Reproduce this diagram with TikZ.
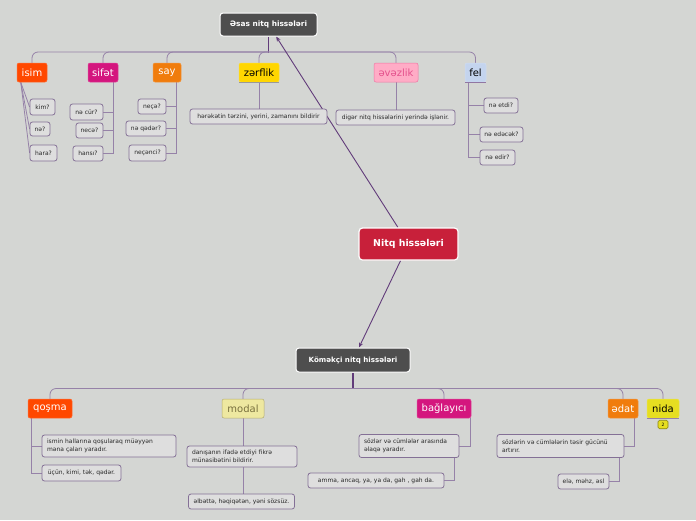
\documentclass[tikz,border=0pt]{standalone}
\usepackage{fontspec}
\setmainfont{DejaVu Sans}
\usetikzlibrary{arrows.meta,calc}
\definecolor{bgc}{RGB}{212,214,211}
\definecolor{leaff}{RGB}{222,222,222}
\definecolor{leafb}{RGB}{132,112,150}
\definecolor{connc}{RGB}{150,130,168}
\definecolor{connd}{RGB}{98,60,122}
\definecolor{darkn}{RGB}{78,78,78}
\definecolor{txt}{RGB}{40,40,40}
\definecolor{cisim}{RGB}{255,72,0}
\definecolor{csifet}{RGB}{212,22,126}
\definecolor{csay}{RGB}{240,124,12}
\definecolor{czerf}{RGB}{255,214,0}
\definecolor{cevez}{RGB}{255,172,198}
\definecolor{cevezt}{RGB}{228,80,140}
\definecolor{cfel}{RGB}{196,212,238}
\definecolor{cmodal}{RGB}{238,232,160}
\definecolor{cmodalt}{RGB}{120,112,62}
\definecolor{cnida}{RGB}{230,222,32}
\definecolor{cnitq}{RGB}{200,32,58}
\pgfdeclarelayer{back}
\pgfdeclarelayer{edges}
\pgfsetlayers{back,edges,main}
\begin{document}
\begin{tikzpicture}[x=1pt,y=-1pt,
  leaf/.style={draw=leafb, fill=leaff, line width=0.8pt, rounded corners=2.5pt,
    font=\fontsize{6}{7.6}\selectfont, text=txt, inner xsep=4pt, inner ysep=0pt,
    minimum height=15pt, align=left},
  leaftwo/.style={leaf, inner xsep=5pt, text width=#1},
  topn/.style={rounded corners=2pt, inner sep=0pt, minimum height=19pt,
    font=\fontsize{10}{12}\selectfont, text=white, draw=#1!80!white, line width=0.5pt, fill=#1},
  darkbox/.style={fill=darkn, draw=white, line width=1pt, rounded corners=3pt, text=white,
    inner sep=0pt, font=\bfseries\fontsize{7.4}{9}\selectfont},
  conn/.style={draw=connc, line width=0.8pt},
  connb/.style={draw=connd, line width=1.2pt},
  arr/.style={draw=connd, line width=0.9pt, -{Stealth[length=5pt,width=4pt]}}]
\begin{pgfonlayer}{back}
\fill[bgc] (0,0) rectangle (696,520);
\end{pgfonlayer}
\useasboundingbox (0,0) rectangle (696,520);

% ---------- top part ----------
\node[darkbox, minimum width=97pt, minimum height=23pt] (main1) at (268.5,24.5) {Əsas nitq hissələri};

\node[topn=cisim, minimum width=30pt] (isim) at (32,72.5) {isim};
\node[topn=csifet, minimum width=30pt] (sifet) at (103,72.5) {sifət};
\node[topn=csay, minimum width=28pt] (say) at (167,72.5) {say};
\node[topn=czerf, minimum width=40pt, text=black] (zerflik) at (259,72.5) {zərflik};
\node[topn=cevez, minimum width=44pt, text=cevezt, draw=cevezt!60!cevez] (evezlik) at (396,72.5) {əvəzlik};
\node[topn=cfel, minimum width=21pt, text=black] (fel) at (475.5,72.5) {fel};
\draw[draw=gray!80, line width=0.8pt] (zerflik.south west) -- (zerflik.south east);
\draw[draw=connd!70, line width=0.8pt] (fel.south west) -- (fel.south east);

\node[leaf, minimum width=25pt, minimum height=16pt] (kim) at (42.5,107) {kim?};
\node[leaf, minimum width=20pt, minimum height=14pt] (ne) at (40,129) {nə?};
\node[leaf, minimum width=27pt, minimum height=16pt] (hara) at (43.5,153) {hara?};

\node[leaf, minimum width=33pt, minimum height=16pt] (necur) at (86.5,112) {nə cür?};
\node[leaf, minimum width=27pt] (nece) at (89.5,130.5) {necə?};
\node[leaf, minimum width=30pt] (hansi) at (88,153.5) {hansı?};

\node[leaf, minimum width=28pt] (necea) at (152,106.5) {neçə?};
\node[leaf, minimum width=40pt] (neqeder) at (146,128.5) {nə qədər?};
\node[leaf, minimum width=37pt, minimum height=16pt] (necenci) at (147.5,153) {neçənci?};

\node[leaf, minimum width=137pt] (herek) at (258.5,116.5) {hərəkətin tərzini, yerini, zamanını bildirir};
\node[leaf, minimum width=119pt] (diger) at (395.5,117.5) {digər nitq hissələrini yerində işlənir.};

\node[leaf, minimum width=34pt] (netdi) at (501,105.5) {nə etdi?};
\node[leaf, minimum width=43pt] (nedecek) at (501.5,134.5) {nə edəcək?};
\node[leaf, minimum width=35pt] (nedir) at (497.5,157.5) {nə edir?};

% ---------- center ----------
\node[fill=cnitq, draw=white, line width=1.2pt, rounded corners=3.5pt, text=white,
  inner sep=0pt, minimum width=99pt, minimum height=32pt,
  font=\bfseries\fontsize{9.4}{11}\selectfont] (nitq) at (408.5,244) {Nitq hissələri};

% ---------- bottom part ----------
\node[darkbox, minimum width=114pt, minimum height=24pt, font=\bfseries\fontsize{7.1}{9}\selectfont] (komek) at (353,360) {Köməkçi nitq hissələri};

\node[topn=cisim, minimum width=44pt] (qosma) at (50,408.5) {qoşma};
\node[topn=cmodal, minimum width=42pt, text=cmodalt, draw=cmodalt!50!cmodal] (modal) at (243,408.5) {modal};
\node[topn=csifet, minimum width=54pt] (bagl) at (444,408.5) {bağlayıcı};
\node[topn=csay, minimum width=30pt] (edat) at (623,408.5) {ədat};
\node[topn=cnida, minimum width=32pt, text=black] (nida) at (663,408.5) {nida};
\draw[draw=connc, line width=0.8pt] (nida.south west) -- (nida.south east);
\node[fill=cnida, draw=cnida!60!black, line width=0.6pt, rounded corners=1.5pt, inner sep=0pt,
  minimum width=10pt, minimum height=8.5pt, font=\fontsize{4.5}{5}\selectfont] (badge) at (663,424.5) {2};

\node[leaftwo=124pt, minimum height=22pt] (ismin) at (109,446)
  {ismin hallarına qoşularaq müəyyən\\məna çaları yaradır.};
\node[leaf, minimum width=79pt, minimum height=16pt] (ucun) at (81.5,473) {üçün, kimi, tək, qədər.};

\node[leaftwo=100pt, minimum height=21pt] (danis) at (242,456.5)
  {danışanın ifadə etdiyi fikrə\\münasibətini bildirir.};
\node[leaf, minimum width=106pt] (elbet) at (241.5,501.5) {əlbəttə, həqiqətən, yəni sözsüz.};

\node[leaftwo=90pt, minimum height=23pt] (sozler) at (409,446)
  {sözlər və cümlələr arasında\\əlaqə yaradır.};
\node[leaf, minimum width=136pt] (amma) at (376,480.5) {amma, ancaq, ya, ya da, gah , gah da.};

\node[leaftwo=117pt, minimum height=23pt] (sozlerin) at (560.5,446)
  {sözlərin və cümlələrin təsir gücünü\\artırır.};
\node[leaf, minimum width=51pt] (ele) at (583.5,481.5) {elə, məhz, əsl};

% ---------- connectors ----------
\begin{pgfonlayer}{edges}
  \coordinate (bus1) at ($(main1.south)+(0,16.5)$);
  \draw[connb] (main1.south) -- (bus1);
  \foreach \c in {isim,sifet,say,zerflik,evezlik,fel}
    \draw[conn, rounded corners=6pt] ($(bus1)+(0,-1)$) -| (\c.north);
  % isim
  \coordinate (isr) at ($(isim.south west)+(4,0)$);
  \foreach \l in {kim,ne,hara} \draw[conn] (isr) -- (\l.west);
  % sifet
  \coordinate (sfr) at ($(sifet.south)+(10,0)$);
  \foreach \l in {necur,nece,hansi} \draw[conn] (sfr) |- (\l.east);
  % say
  \coordinate (syr) at ($(say.south)+(9,0)$);
  \foreach \l in {necea,neqeder,necenci} \draw[conn] (syr) |- (\l.east);
  % zerflik, evezlik
  \draw[conn] (zerflik.south) -- (zerflik.south |- herek.north);
  \draw[conn] (evezlik.south) -- (evezlik.south |- diger.north);
  % fel
  \coordinate (flr) at ($(fel.south west)+(4,0)$);
  \foreach \l in {netdi,nedecek,nedir} \draw[conn] (flr) |- (\l.west);

  % arrows
  \draw[arr] (nitq) -- (main1);
  \draw[arr] (nitq) -- (komek);

  % bottom bus
  \coordinate (bus2) at ($(komek.south)+(0,16)$);
  \draw[connb] (komek.south) -- (bus2);
  \foreach \c in {qosma,modal,bagl,edat,nida}
    \draw[conn, rounded corners=6pt] (bus2) -| (\c.north);
  % qosma
  \coordinate (qsr) at ($(qosma.south west)+(4,0)$);
  \foreach \l in {ismin,ucun} \draw[conn] (qsr) |- (\l.west);
  % modal
  \draw[conn] (modal.south) -- (modal.south |- elbet.north);
  % baglayici
  \coordinate (bgr) at ($(bagl.south east)+(-1,0)$);
  \draw[conn] (bgr) |- (sozler.east);
  \coordinate (bgr2) at ($(sozler.south)+(45,0)$);
  \draw[conn] (bgr2) |- (amma.east);
  % edat
  \coordinate (edr) at ($(edat.south east)+(-4,0)$);
  \draw[conn] (edr) |- (sozlerin.east);
  \coordinate (edr2) at ($(sozlerin.south)+(58.5,0)$);
  \draw[conn] (edr2) |- (ele.east);
\end{pgfonlayer}
\end{tikzpicture}
\end{document}
